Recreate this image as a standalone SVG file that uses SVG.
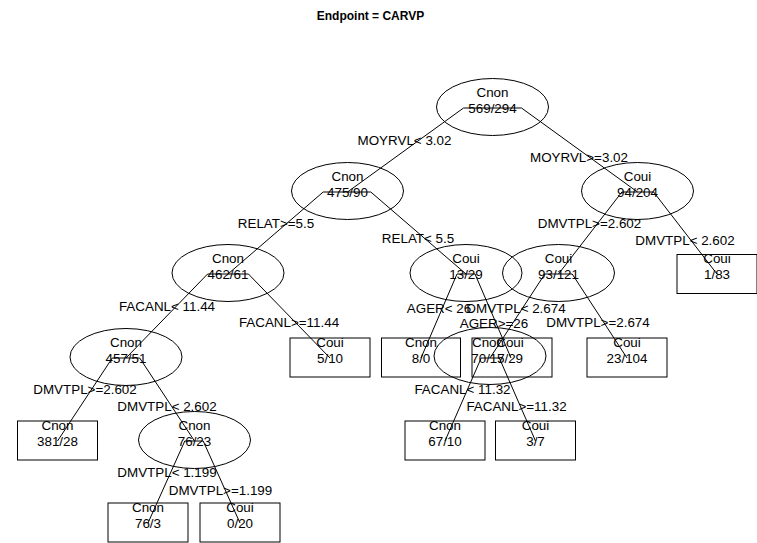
<svg xmlns="http://www.w3.org/2000/svg" width="757" height="543" viewBox="0 0 757 543">
  <style>
    text { font-family: "Liberation Sans", Arial, Helvetica, sans-serif; fill: #000; }
    .title { font-size: 12px; font-weight: bold; text-anchor: middle; }
    .lbl { font-size: 13.4px; text-anchor: middle; }
    .split { font-size: 13.4px; text-anchor: middle; }
    .node ellipse, .leaf rect { fill: none; stroke: #000; stroke-width: 1; }
    #connectors path { fill: none; stroke: #000; stroke-width: 1; }
  </style>
  <rect width="757" height="543" fill="#fff"/>

  <text class="title" x="370.5" y="20">Endpoint = CARVP</text>

  <!-- branches: left child up to parent level, across, down to right child -->
  <g id="connectors">
    <path d="M347.5,192 L463.5,108 L521.5,108 L637.5,192"/>
    <path d="M228,274 L323.2,192 L370.8,192 L466,274"/>
    <path d="M558.5,274 L621.9,192 L653.6,192 L717,274"/>
    <path d="M126,358 L207.6,274 L248.4,274 L330,358"/>
    <path d="M421,358 L457,274 L475,274 L511,358"/>
    <path d="M490,358 L544.8,274 L572.2,274 L627,358"/>
    <path d="M57.5,441 L112.3,358 L139.7,358 L194.5,441"/>
    <path d="M445,441 L481.2,358 L499.3,358 L535.5,441"/>
    <path d="M148,523 L184.8,441 L203.2,441 L240,523"/>
  </g>

  <!-- split labels -->
  <g id="splits">
    <text class="split" x="404.5" y="145">MOYRVL&lt; 3.02</text>
    <text class="split" x="579" y="161.5">MOYRVL&gt;=3.02</text>
    <text class="split" x="276" y="228">RELAT&gt;=5.5</text>
    <text class="split" x="418" y="243">RELAT&lt; 5.5</text>
    <text class="split" x="589.5" y="228">DMVTPL&gt;=2.602</text>
    <text class="split" x="685" y="245">DMVTPL&lt; 2.602</text>
    <text class="split" x="167" y="311">FACANL&lt; 11.44</text>
    <text class="split" x="289" y="327">FACANL&gt;=11.44</text>
    <text class="split" x="439" y="312.5">AGER&lt; 26</text>
    <text class="split" x="494" y="328">AGER&gt;=26</text>
    <text class="split" x="516" y="312.5">DMVTPL&lt; 2.674</text>
    <text class="split" x="598" y="327">DMVTPL&gt;=2.674</text>
    <text class="split" x="85" y="394">DMVTPL&gt;=2.602</text>
    <text class="split" x="167" y="411">DMVTPL&lt; 2.602</text>
    <text class="split" x="462.5" y="394">FACANL&lt; 11.32</text>
    <text class="split" x="516.5" y="411">FACANL&gt;=11.32</text>
    <text class="split" x="167" y="476.5">DMVTPL&lt; 1.199</text>
    <text class="split" x="220.5" y="495">DMVTPL&gt;=1.199</text>
  </g>

  <!-- internal nodes -->
  <g id="n1" class="node">
    <ellipse cx="492.5" cy="107" rx="56" ry="28.5"/>
    <text class="lbl" x="492.5" y="96.5">Cnon</text>
    <text class="lbl" x="492.5" y="112.5">569/294</text>
  </g>
  <g id="n2" class="node">
    <ellipse cx="347.5" cy="191" rx="56" ry="28.5"/>
    <text class="lbl" x="347.5" y="180.5">Cnon</text>
    <text class="lbl" x="347.5" y="196.5">475/90</text>
  </g>
  <g id="n3" class="node">
    <ellipse cx="637.5" cy="191" rx="56" ry="28.5"/>
    <text class="lbl" x="637.5" y="180.5">Coui</text>
    <text class="lbl" x="637.5" y="196.5">94/204</text>
  </g>
  <g id="n4" class="node">
    <ellipse cx="228" cy="273" rx="56" ry="28.5"/>
    <text class="lbl" x="228" y="262.5">Cnon</text>
    <text class="lbl" x="228" y="278.5">462/61</text>
  </g>
  <g id="n5" class="node">
    <ellipse cx="466" cy="273" rx="56" ry="28.5"/>
    <text class="lbl" x="466" y="262.5">Coui</text>
    <text class="lbl" x="466" y="278.5">13/29</text>
  </g>
  <g id="n6" class="node">
    <ellipse cx="558.5" cy="273" rx="56" ry="28.5"/>
    <text class="lbl" x="558.5" y="262.5">Coui</text>
    <text class="lbl" x="558.5" y="278.5">93/121</text>
  </g>
  <g id="n8" class="node">
    <ellipse cx="126" cy="357" rx="56" ry="28.5"/>
    <text class="lbl" x="126" y="346.5">Cnon</text>
    <text class="lbl" x="126" y="362.5">457/51</text>
  </g>
  <g id="n13" class="node">
    <ellipse cx="490" cy="356" rx="56" ry="28.5"/>
    <text class="lbl" x="488" y="346.5">Cnon</text>
    <text class="lbl" x="488" y="362.5">70/17</text>
  </g>
  <g id="n17" class="node">
    <ellipse cx="194.5" cy="440" rx="56" ry="28.5"/>
    <text class="lbl" x="194.5" y="429.5">Cnon</text>
    <text class="lbl" x="194.5" y="445.5">76/23</text>
  </g>

  <!-- leaves -->
  <g id="n7" class="leaf">
    <rect x="677" y="254.5" width="80" height="39"/>
    <text class="lbl" x="717" y="263">Coui</text>
    <text class="lbl" x="717" y="278.5">1/83</text>
  </g>
  <g id="n9" class="leaf">
    <rect x="290" y="338" width="80" height="39"/>
    <text class="lbl" x="330" y="347">Coui</text>
    <text class="lbl" x="330" y="362.5">5/10</text>
  </g>
  <g id="n10" class="leaf">
    <rect x="381.5" y="338" width="79" height="39"/>
    <text class="lbl" x="421" y="347">Cnon</text>
    <text class="lbl" x="421" y="362.5">8/0</text>
  </g>
  <g id="n11" class="leaf">
    <rect x="472" y="338" width="80" height="39"/>
    <text class="lbl" x="510" y="347">Coui</text>
    <text class="lbl" x="510" y="362.5">5/29</text>
  </g>
  <g id="n12" class="leaf">
    <rect x="587" y="338" width="80" height="39"/>
    <text class="lbl" x="627" y="347">Coui</text>
    <text class="lbl" x="627" y="362.5">23/104</text>
  </g>
  <g id="n16" class="leaf">
    <rect x="17.5" y="421" width="80" height="39"/>
    <text class="lbl" x="57.5" y="430">Cnon</text>
    <text class="lbl" x="57.5" y="445.5">381/28</text>
  </g>
  <g id="n26" class="leaf">
    <rect x="405" y="421" width="80" height="39"/>
    <text class="lbl" x="445" y="430">Cnon</text>
    <text class="lbl" x="445" y="445.5">67/10</text>
  </g>
  <g id="n27" class="leaf">
    <rect x="495.5" y="421" width="80" height="39"/>
    <text class="lbl" x="535.5" y="430">Coui</text>
    <text class="lbl" x="535.5" y="445.5">3/7</text>
  </g>
  <g id="n34" class="leaf">
    <rect x="108" y="503" width="80" height="39"/>
    <text class="lbl" x="148" y="512">Cnon</text>
    <text class="lbl" x="148" y="527.5">76/3</text>
  </g>
  <g id="n35" class="leaf">
    <rect x="200" y="503" width="80" height="39"/>
    <text class="lbl" x="240" y="512">Coui</text>
    <text class="lbl" x="240" y="527.5">0/20</text>
  </g>
</svg>
